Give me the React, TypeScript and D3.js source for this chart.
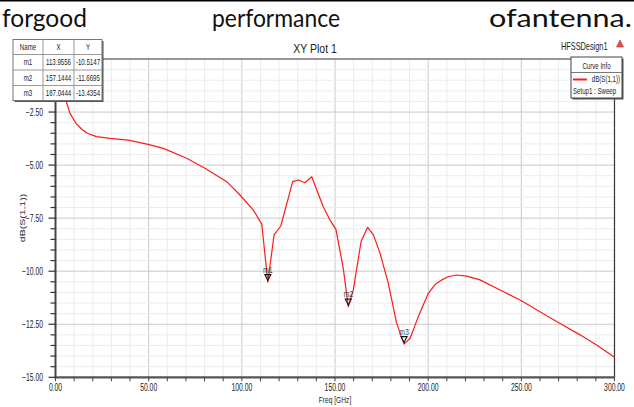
import React, { useEffect, useRef } from 'react';
import * as d3 from 'd3';

// S11 sweep
const freqGHz = [1, 3, 5.5, 7.8, 11, 14, 17, 22, 29.3, 39, 49.8, 57.9, 70.4, 80.2, 91.9, 99, 106.2, 110.7, 113.9556, 117.3, 120.9, 127.3, 130.3, 133.9, 137.5, 143.7, 147.3, 150.5, 154.5, 157.1444, 159.8, 164, 167.5, 170.6, 174.2, 178.6, 183.1, 187.0444, 190.3, 194.7, 200.1, 204, 207.3, 211, 215.3, 220.7, 227.8, 238.6, 249.3, 260, 270.8, 281.5, 290.4, 300];
const dbS11 = [-1.0, -1.45, -1.93, -2.56, -3.03, -3.3, -3.5, -3.66, -3.74, -3.82, -4.02, -4.21, -4.68, -5.15, -5.78, -6.41, -7.12, -7.78, -10.5147, -8.29, -7.87, -5.78, -5.7, -5.83, -5.55, -6.96, -7.59, -8.03, -9.9, -11.6695, -10.89, -8.6, -7.93, -8.29, -9.16, -10.57, -12.46, -13.4354, -13.16, -12.14, -11.04, -10.6, -10.41, -10.25, -10.18, -10.23, -10.41, -10.89, -11.36, -11.91, -12.46, -13.0, -13.48, -14.06];

const markerNames = ['m1', 'm2', 'm3'];
const markerX = [113.9556, 157.1444, 187.0444];
const markerY = [-10.5147, -11.6695, -13.4354];

const xTicks = [0, 50, 100, 150, 200, 250, 300];
const yTicks = [-2.5, -5, -7.5, -10, -12.5, -15];

const FONT = '"Liberation Sans", Arial, sans-serif';

const App: React.FC = () => {
  const svgRef = useRef<SVGSVGElement>(null);

  useEffect(() => {
    if (!svgRef.current) return;
    const svg = d3.select(svgRef.current);
    svg.selectAll('*').remove();

    const x = d3.scaleLinear().domain([0, 300]).range([55.5, 614.5]);
    const y = d3.scaleLinear().domain([-15, 0]).range([377.3, 59]);

    // squeezed text, the source picture is narrower than it was drawn
    const label = (
      parent: d3.Selection<any, unknown, null, undefined>,
      tx: number, ty: number, str: string,
      size: number, sx: number, anchor = 'start', fill = '#222'
    ) => parent.append('text')
      .attr('transform', `translate(${tx},${ty}) scale(${sx},1)`)
      .attr('text-anchor', anchor)
      .attr('font-family', FONT)
      .attr('font-size', size)
      .attr('fill', fill)
      .text(str);

    // caption line above the figure
    svg.append('rect').attr('x', 0).attr('y', 0).attr('width', 634).attr('height', 1.5).attr('fill', '#000');
    const cap = [
      { t: 'forgood', x: 2, w: 85 },
      { t: 'performance', x: 212, w: 128 },
      { t: 'ofantenna.', x: 489, w: 143 },
    ];
    cap.forEach(c => {
      svg.append('text')
        .attr('x', c.x).attr('y', 26.5)
        .attr('font-family', 'Lato, "Open Sans", sans-serif')
        .attr('font-size', 25)
        .attr('fill', '#111')
        .attr('textLength', c.w)
        .attr('lengthAdjust', 'spacingAndGlyphs')
        .text(c.t);
    });

    const g = svg.append('g');

    // grid
    const [x0, x1] = x.range();
    const [y0, y1] = y.range();
    d3.range(10, 300, 10).forEach(v => {
      g.append('line').attr('x1', x(v)).attr('x2', x(v)).attr('y1', y1).attr('y2', y0)
        .attr('stroke', v % 50 === 0 ? '#c9c9c9' : '#ececec').attr('stroke-width', 1);
    });
    d3.range(-14.5, 0, 0.5).forEach(v => {
      const major = Math.abs(v / 2.5 - Math.round(v / 2.5)) < 1e-6;
      g.append('line').attr('x1', x0).attr('x2', x1).attr('y1', y(v)).attr('y2', y(v))
        .attr('stroke', major ? '#c9c9c9' : '#ececec').attr('stroke-width', 1);
    });

    // frame
    g.append('line').attr('x1', x0).attr('x2', x1).attr('y1', y1).attr('y2', y1).attr('stroke', '#333').attr('stroke-width', 1.2);
    g.append('line').attr('x1', x1).attr('x2', x1).attr('y1', y1).attr('y2', y0).attr('stroke', '#333').attr('stroke-width', 1.2);
    g.append('line').attr('x1', x0).attr('x2', x0).attr('y1', y1).attr('y2', y0 + 1).attr('stroke', '#444').attr('stroke-width', 2);
    g.append('line').attr('x1', x0 - 1).attr('x2', x1 + 0.6).attr('y1', y0).attr('y2', y0).attr('stroke', '#555').attr('stroke-width', 2.2);

    // tick marks
    d3.range(0, 301, 10).forEach(v => {
      g.append('line').attr('x1', x(v)).attr('x2', x(v)).attr('y1', y0).attr('y2', y0 + 4).attr('stroke', '#444');
    });
    d3.range(-15, 0.01, 0.5).forEach(v => {
      const major = Math.abs(v / 2.5 - Math.round(v / 2.5)) < 1e-6;
      g.append('line').attr('x1', x0 - (major ? 7 : 5)).attr('x2', x0).attr('y1', y(v)).attr('y2', y(v)).attr('stroke', '#333').attr('stroke-width', 1.2);
    });

    xTicks.forEach(v => label(g, x(v), 390.5, d3.format('.2f')(v), 10, 0.68, 'middle'));
    yTicks.forEach(v => label(g, 43, y(v) + 3.7, d3.format('.2f')(v), 10, 0.68, 'end'));

    label(g, 335, 402.5, 'Freq [GHz]', 9.5, 0.7, 'middle');
    g.append('text')
      .attr('transform', `translate(25,218) scale(0.65,1) rotate(-90)`)
      .attr('text-anchor', 'middle')
      .attr('font-family', FONT)
      .attr('font-size', 10.5)
      .attr('fill', '#222')
      .text('dB(S(1,1))');

    label(svg, 315, 52.5, 'XY Plot 1', 13.5, 0.78, 'middle');
    label(svg, 607.5, 50, 'HFSSDesign1', 10.5, 0.7, 'end');
    svg.append('path')
      .attr('d', 'M620,40 L623.5,47 L616.5,47 Z')
      .attr('fill', '#e05050').attr('stroke', '#b03030').attr('stroke-width', 0.6);

    // the curve
    const pts: [number, number][] = freqGHz.map((f, i) => [x(f), y(dbS11[i])]);
    g.append('path')
      .datum(pts)
      .attr('d', d3.line())
      .attr('fill', 'none')
      .attr('stroke', '#ff1a1a')
      .attr('stroke-width', 1.2)
      .attr('stroke-linejoin', 'round');

    // markers
    markerNames.forEach((m, i) => {
      const px = x(markerX[i]);
      const py = y(markerY[i]);
      g.append('path')
        .attr('d', `M${px - 3},${py - 7.5} L${px + 3},${py - 7.5} L${px},${py - 1.5} Z`)
        .attr('fill', 'none').attr('stroke', '#111').attr('stroke-width', 1.1);
      label(g, px, py - 9.5, m, 9.5, 0.75, 'middle', '#444');
    });

    // marker table
    const tbl = svg.append('g');
    const colX = [13, 43, 74, 102];
    const rowY = [39.5, 54.5, 70, 85.5, 100.5];
    tbl.append('rect').attr('x', colX[0] + 1.5).attr('y', rowY[0] + 1.5).attr('width', colX[3] - colX[0]).attr('height', rowY[4] - rowY[0]).attr('fill', '#555');
    tbl.append('rect').attr('x', colX[0]).attr('y', rowY[0]).attr('width', colX[3] - colX[0]).attr('height', rowY[4] - rowY[0])
      .attr('fill', '#fff').attr('stroke', '#777').attr('stroke-width', 1);
    colX.slice(1, 3).forEach(cx => tbl.append('line').attr('x1', cx).attr('x2', cx).attr('y1', rowY[0]).attr('y2', rowY[4]).attr('stroke', '#999'));
    rowY.slice(1, 4).forEach(ry => tbl.append('line').attr('x1', colX[0]).attr('x2', colX[3]).attr('y1', ry).attr('y2', ry).attr('stroke', '#999'));
    const rows = [['Name', 'X', 'Y'], ...markerNames.map((m, i) => [m, markerX[i].toFixed(4), markerY[i].toFixed(4)])];
    rows.forEach((r, ri) => {
      r.forEach((c, ci) => {
        label(tbl, (colX[ci] + colX[ci + 1]) / 2, (rowY[ri] + rowY[ri + 1]) / 2 + 3, c, 8.5, 0.72, 'middle', '#222');
      });
    });

    // curve info legend
    const lg = svg.append('g');
    lg.append('rect').attr('x', 572.5).attr('y', 58.5).attr('width', 51).attr('height', 41).attr('fill', '#555');
    lg.append('rect').attr('x', 571).attr('y', 57).attr('width', 51).attr('height', 41)
      .attr('fill', '#fff').attr('stroke', '#444').attr('stroke-width', 1);
    lg.append('line').attr('x1', 571).attr('x2', 622).attr('y1', 72.5).attr('y2', 72.5).attr('stroke', '#777');
    label(lg, 596.5, 68.5, 'Curve Info', 8.5, 0.72, 'middle');
    lg.append('line').attr('x1', 573).attr('x2', 587).attr('y1', 79.5).attr('y2', 79.5).attr('stroke', '#ff1a1a').attr('stroke-width', 2);
    label(lg, 620, 82, 'dB(S(1,1))', 8.5, 0.72, 'end');
    label(lg, 573, 93.5, 'Setup1 : Sweep', 8.5, 0.72, 'start');
  }, []);

  return (
    <svg
      ref={svgRef}
      width={634}
      height={407}
      style={{ position: 'absolute', left: 0, top: 0, background: '#fff' }}
    />
  );
};

export default App;
